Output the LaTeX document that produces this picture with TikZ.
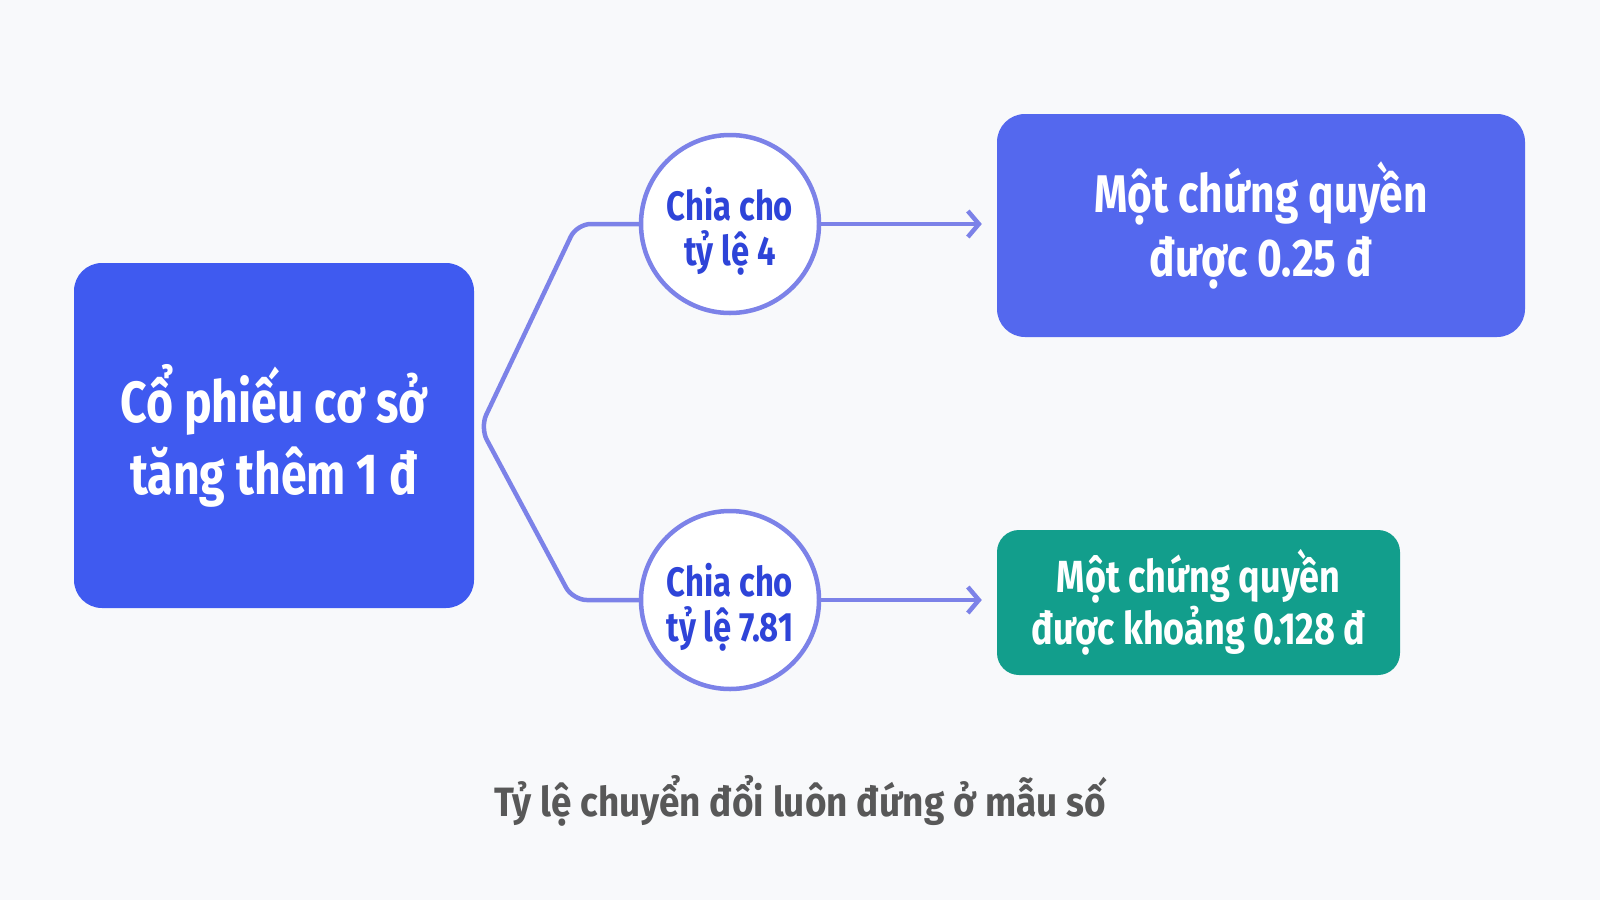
\documentclass[tikz,border=0pt]{standalone}
\usepackage{fontspec}
\setmainfont{Fira Sans}[FakeStretch=0.8]
\newfontfamily\capfont{Fira Sans}[FakeStretch=0.9]
\usetikzlibrary{arrows.meta,calc}
\definecolor{bg}{HTML}{F8F9FB}
\definecolor{blueA}{HTML}{3F5AF0}
\definecolor{blueB}{HTML}{5468EE}
\definecolor{greenA}{HTML}{129E8C}
\definecolor{ring}{HTML}{7C82E8}
\definecolor{ringtxt}{HTML}{2E44D8}
\definecolor{note}{HTML}{585858}
\tikzset{
  box/.style={rounded corners=28pt, align=center, text=white, font=\bfseries, inner sep=0pt},
  ratio/.style={circle, draw=ring, line width=4.5pt, fill=white, minimum size=178pt, inner sep=0pt},
  ratiotxt/.style={align=center, text=ringtxt, inner sep=0pt, font=\fontsize{41}{45}\selectfont\bfseries},
  conn/.style={draw=ring, line width=4.5pt, line cap=round, line join=round},
  arr/.style={conn, -{Straight Barb[length=11pt,width=26pt,line width=4.5pt]}}
}
\begin{document}
\begin{tikzpicture}[x=1pt,y=-1pt]
\useasboundingbox[fill=bg] (0,0) rectangle (1600,900);
\node[box, fill=blueA, minimum width=400pt, minimum height=345pt, font=\fontsize{58}{72}\selectfont\bfseries] (L) at (274,435.5) {Cổ phiếu cơ sở\\tăng thêm 1 đ};
\node[ratio] (c1) at (730,224) {};
\node[ratio] (c2) at (730,600) {};
\node[ratiotxt] (t1) at ($(c1)+(0,7)$) {Chia cho\\tỷ lệ 4};
\node[ratiotxt] (t2) at ($(c2)+(0,7)$) {Chia cho\\tỷ lệ 7.81};
\node[box, fill=blueB, minimum width=528pt, minimum height=223pt, font=\fontsize{53}{64}\selectfont\bfseries] (R1) at (1261,225.5) {Một chứng quyền\\được 0.25 đ};
\node[box, rounded corners=22pt, fill=greenA, minimum width=403pt, minimum height=145pt, font=\fontsize{45}{52}\selectfont\bfseries] (R2) at (1198.5,602.5) {Một chứng quyền\\được khoảng 0.128 đ};
\node[text=note, font=\capfont\fontsize{41}{46}\selectfont\bfseries] (cap) at (800,801) {Tỷ lệ chuyển đổi luôn đứng ở mẫu số};
\coordinate (fork) at ($(L.east)+(6,-8)$);
\coordinate (e1) at ($(R1.west |- c1)+(-15,0)$);
\coordinate (e2) at ($(R2.west |- c2)+(-15,0)$);
\draw[conn, rounded corners=14pt] (c1.west) -- ++(-62,0) -- (fork) -- ($(c2.west)+(-66,0)$) -- (c2.west);
\draw[arr] (c1.east) -- (e1);
\draw[arr] (c2.east) -- (e2);
\end{tikzpicture}
\end{document}
